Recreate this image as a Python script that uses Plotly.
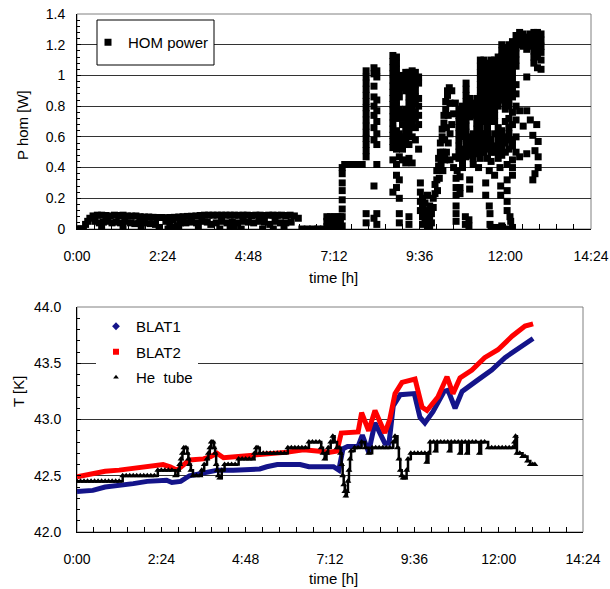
import plotly.graph_objects as go

# ---------------- data: HOM power (top panel), time in hours ----------------
# each entry: (time [h], [P values at that time])
hom_idle = [
    (0.0, [0.0]), (0.06, [0.0]), (0.12, [0.0]), (0.18, [0.0]),
    (0.24, [0.03]), (0.3, [0.05]), (0.36, [0.07]),
    (0.45, [0.085]), (0.5, [0.05]), (0.57, [0.09]), (0.62, [0.04]), (0.69, [0.09, 0.01]),
    (0.74, [0.045]), (0.81, [0.088]), (0.86, [0.05]), (0.93, [0.085]), (0.98, [0.04]),
    (1.05, [0.09]), (1.1, [0.045]), (1.17, [0.088]), (1.22, [0.04]), (1.29, [0.09, 0.01]),
    (1.34, [0.05]), (1.41, [0.085]), (1.5, [0.04]), (1.53, [0.084]), (1.62, [0.035]),
    (1.65, [0.085]), (1.74, [0.04]), (1.77, [0.08]), (1.8, [0.0]), (1.89, [0.078, 0.04]),
    (2.01, [0.078]), (2.05, [0.035]), (2.13, [0.076]), (2.2, [0.03]), (2.25, [0.075]),
    (2.3, [0.01]), (2.37, [0.075]), (2.49, [0.074, 0.05]), (2.55, [0.0]), (2.6, [0.03]),
    (2.61, [0.075]), (2.65, [0.0]), (2.7, [0.06]), (2.73, [0.076]), (2.75, [0.01]),
    (2.8, [0.02]), (2.85, [0.078, 0.0]), (2.9, [0.04]), (2.97, [0.08]), (3.05, [0.04]),
    (3.09, [0.082]), (3.2, [0.045]), (3.21, [0.083]), (3.33, [0.085]), (3.35, [0.04]),
    (3.4, [0.01]), (3.45, [0.088]), (3.5, [0.05]), (3.57, [0.09]), (3.65, [0.045]),
    (3.69, [0.09]), (3.75, [0.03]), (3.81, [0.09]), (3.9, [0.04]), (3.93, [0.09]),
    (4.0, [0.0]), (4.05, [0.09, 0.05]), (4.17, [0.09]), (4.2, [0.04]), (4.29, [0.09, 0.02]),
    (4.35, [0.045]), (4.41, [0.09, 0.01]), (4.5, [0.04]), (4.53, [0.089]), (4.6, [0.0]),
    (4.65, [0.09, 0.05]), (4.77, [0.09]), (4.8, [0.045]), (4.89, [0.088]), (4.95, [0.04]),
    (5.01, [0.09]), (5.1, [0.05]), (5.13, [0.09]), (5.2, [0.0]), (5.25, [0.088, 0.045]),
    (5.37, [0.09]), (5.4, [0.03]), (5.49, [0.09]), (5.5, [0.0]), (5.55, [0.05]),
    (5.61, [0.089]), (5.7, [0.04]), (5.73, [0.09]), (5.8, [0.01]), (5.85, [0.088, 0.04]),
    (5.97, [0.09]), (6.0, [0.045]), (6.09, [0.085]), (6.2, [0.07]),
    (6.3, [0.0]), (6.45, [0.0]), (6.6, [0.0]), (6.75, [0.0]), (6.9, [0.0]),
]

hom_rampup = [
    (7.0, [0.015, 0.05, 0.08]), (7.1, [0.015, 0.05, 0.08]), (7.2, [0.015, 0.05, 0.08]),
    (7.3, [0.015, 0.05, 0.08]), (7.38, [0.015, 0.05, 0.08]),
    (7.43, [0.02, 0.08, 0.13, 0.19, 0.25, 0.3, 0.36, 0.4]),
    (7.5, [0.42]), (7.57, [0.42]), (7.64, [0.42]), (7.71, [0.42]), (7.78, [0.42]),
    (7.85, [0.42]), (7.92, [0.42]), (7.99, [0.42]),
]

hom_burst1 = [
    (8.1, [1.03, 0.99, 0.95, 0.91, 0.87, 0.83, 0.79, 0.75, 0.71, 0.67, 0.63, 0.59, 0.55, 0.51, 0.47, 0.1, 0.04]),
    (8.32, [1.05, 1.01, 0.93, 0.86, 0.8, 0.74, 0.66, 0.58, 0.28, 0.07]),
    (8.4, [1.03, 0.99, 0.84, 0.77, 0.7, 0.62, 0.55, 0.42, 0.1, 0.03]),
    (8.85, [1.13, 1.09, 1.05, 1.01, 0.97, 0.93, 0.89, 0.85, 0.81, 0.77, 0.73, 0.69, 0.65, 0.61, 0.57, 0.53, 0.45, 0.24]),
    (8.95, [1.12, 1.08, 1.04, 1.0, 0.96, 0.92, 0.88, 0.84, 0.8, 0.76, 0.72, 0.64, 0.6, 0.56, 0.52, 0.42, 0.35, 0.27]),
    (9.03, [0.98, 0.94, 0.9, 0.86, 0.78, 0.74, 0.62, 0.58, 0.54, 0.47, 0.32, 0.2, 0.1, 0.04]),
    (9.12, [1.0, 0.96, 0.92, 0.76, 0.72, 0.68, 0.6, 0.56, 0.52, 0.45]),
    (9.21, [1.02, 0.98, 0.94, 0.9, 0.78, 0.74, 0.64, 0.6, 0.56, 0.43]),
    (9.3, [1.02, 0.98, 0.94, 0.9, 0.86, 0.82, 0.78, 0.7, 0.66, 0.62, 0.55, 0.46, 0.08, 0.03]),
    (9.39, [1.03, 0.99, 0.95, 0.91, 0.87, 0.83, 0.79, 0.75, 0.71, 0.67, 0.6, 0.43]),
    (9.48, [1.02, 0.98, 0.94, 0.9, 0.86, 0.82, 0.76, 0.72, 0.66, 0.58]),
    (9.57, [0.99, 0.95, 0.85, 0.8, 0.74, 0.68, 0.52]),
    (9.62, [0.3, 0.24, 0.18, 0.12]), (9.68, [0.2, 0.14, 0.08, 0.03]),
    (9.75, [0.17, 0.1, 0.04]), (9.82, [0.22, 0.12, 0.06, 0.01]), (9.88, [0.15, 0.08, 0.02]),
]

hom_burst2 = [
    (9.93, [0.04, 0.1]), (9.98, [0.14, 0.2]), (10.03, [0.23, 0.29]), (10.08, [0.32, 0.38]),
    (10.1, [0.25]), (10.13, [0.41, 0.46]), (10.15, [0.33]), (10.18, [0.5, 0.56]),
    (10.2, [0.42]), (10.23, [0.6, 0.65]), (10.25, [0.5, 0.38]), (10.28, [0.69, 0.74]),
    (10.3, [0.58, 0.47, 0.45]), (10.33, [0.78, 0.83]), (10.35, [0.66, 0.5]),
    (10.38, [0.87, 0.9]), (10.4, [0.74, 0.56]), (10.43, [0.92]), (10.45, [0.82, 0.62, 0.45]),
    (10.5, [0.9, 0.68]), (10.55, [0.75, 0.4]), (10.6, [0.82, 0.47]),
    (10.62, [0.33, 0.27, 0.22, 0.15, 0.1, 0.05]), (10.65, [0.38]),
    (10.7, [0.78, 0.74, 0.7, 0.66, 0.62, 0.58, 0.54, 0.5, 0.46]),
    (10.73, [0.34, 0.27, 0.23]),
    (10.8, [0.8, 0.76, 0.72, 0.68, 0.64, 0.6, 0.52, 0.48, 0.44, 0.4]),
    (10.88, [0.08, 0.03]),
    (10.9, [0.95, 0.91, 0.87, 0.83, 0.79, 0.75, 0.71, 0.67, 0.63, 0.59, 0.55, 0.51, 0.47]),
    (10.98, [0.06, 0.02]),
    (11.0, [0.85, 0.81, 0.77, 0.73, 0.6, 0.56, 0.52, 0.48, 0.32, 0.26]),
    (11.1, [0.82, 0.78, 0.74, 0.62, 0.58, 0.54, 0.5, 0.46, 0.42]),
    (11.2, [0.85, 0.81, 0.77, 0.73, 0.69, 0.65, 0.61, 0.57, 0.53, 0.49]),
    (11.25, [0.4]),
    (11.3, [1.1, 1.06, 1.02, 0.98, 0.94, 0.9, 0.86, 0.82, 0.78, 0.74, 0.7, 0.66, 0.62, 0.58, 0.54, 0.5, 0.46]),
    (11.4, [1.1, 1.06, 1.02, 0.98, 0.94, 0.9, 0.86, 0.82, 0.78, 0.74, 0.7, 0.62, 0.58, 0.54, 0.5]),
    (11.45, [0.3, 0.22]),
    (11.5, [1.08, 1.04, 1.0, 0.96, 0.92, 0.88, 0.84, 0.8, 0.76, 0.72, 0.68, 0.64, 0.6, 0.56, 0.52, 0.46]),
    (11.55, [0.38, 0.15]), (11.57, [0.1, 0.03]),
    (11.6, [1.1, 1.06, 1.02, 0.98, 0.94, 0.9, 0.86, 0.82, 0.78, 0.74, 0.7, 0.58, 0.54, 0.5, 0.44, 0.01]),
    (11.7, [1.1, 1.06, 1.02, 0.98, 0.94, 0.9, 0.86, 0.82, 0.78, 0.74, 0.7, 0.62, 0.54, 0.5, 0.35]),
    (11.75, [0.01]),
    (11.8, [1.12, 1.08, 1.04, 1.0, 0.96, 0.92, 0.88, 0.84, 0.8, 0.66, 0.62, 0.58, 0.54, 0.5, 0.46]),
    (11.85, [0.4]), (11.87, [0.28, 0.22]),
    (11.9, [1.2, 1.16, 1.12, 1.08, 1.04, 1.0, 0.96, 0.92, 0.88, 0.84, 0.64, 0.6, 0.56, 0.52, 0.48, 0.02]),
    (12.0, [1.18, 1.14, 1.1, 1.06, 1.02, 0.98, 0.94, 0.9, 0.86, 0.82, 0.78, 0.7, 0.6, 0.56, 0.5]),
    (12.05, [0.42, 0.32, 0.25, 0.18, 0.12, 0.0]),
    (12.1, [1.2, 1.16, 1.12, 1.08, 1.04, 1.0, 0.96, 0.92, 0.88, 0.84, 0.8, 0.72, 0.66, 0.62, 0.58, 0.52]),
    (12.13, [0.08]), (12.15, [0.05]),
    (12.2, [1.22, 1.18, 1.14, 1.1, 1.06, 1.02, 0.98, 0.94, 0.9, 0.86, 0.76, 0.68, 0.58, 0.54, 0.45, 0.4, 0.35, 0.01]),
    (12.3, [1.26, 1.22, 1.18, 1.14, 1.1, 1.06, 0.94, 0.88, 0.8, 0.71, 0.6, 0.5]),
    (12.4, [1.28, 1.24, 1.2, 0.77, 0.47]),
    (12.5, [1.27, 1.23, 1.19, 0.67]),
    (12.6, [1.25, 1.21, 1.17, 0.99, 0.77, 0.49]),
    (12.7, [1.27, 1.23, 1.19, 0.71]),
    (12.77, [0.61, 0.32]),
    (12.8, [1.28, 1.24, 1.2, 1.16, 1.12, 1.08]),
    (12.83, [0.51, 0.36]),
    (12.88, [0.68]),
    (12.9, [1.28, 1.24, 1.2, 1.16, 1.12, 1.05]),
    (12.92, [0.57, 0.47, 0.4]),
    (13.0, [1.27, 1.23, 1.19, 1.15, 1.1, 1.04]),
]

# ---------------- data: temperatures (bottom panel) ----------------
blat1_t = [0.0, 0.45, 0.8, 1.2, 1.6, 2.0, 2.3, 2.55, 2.7, 2.95, 3.2, 3.6, 4.0, 4.45, 4.8,
           5.2, 5.4, 5.7, 6.35, 6.6, 7.3, 7.45, 7.57, 7.7, 8.0, 8.12, 8.3, 8.48, 8.76,
           8.88, 9.0, 9.2, 9.6, 9.76, 9.9, 10.13, 10.45, 10.56, 10.76, 10.96, 11.4,
           11.8, 12.18, 12.55, 12.98]
blat1_T = [42.36, 42.37, 42.4, 42.41, 42.43, 42.45, 42.46, 42.46, 42.44, 42.45, 42.5,
           42.52, 42.55, 42.55, 42.55, 42.56, 42.58, 42.6, 42.6, 42.58, 42.58, 42.55,
           42.74, 42.76, 42.76, 42.86, 42.71, 42.97, 42.79, 42.79, 43.12, 43.22, 43.23,
           43.02, 42.97, 43.07, 43.25, 43.26, 43.1, 43.25, 43.35, 43.44, 43.55, 43.63,
           43.72]

blat2_t = [0.0, 0.4, 0.8, 1.2, 1.7, 2.1, 2.45, 2.65, 2.85, 3.2, 3.6, 3.8, 3.98, 4.17,
           4.6, 4.92, 5.5, 6.0, 6.45, 7.2, 7.4, 7.52, 8.0, 8.1, 8.3, 8.48, 8.76, 8.9,
           9.05, 9.25, 9.62, 9.82, 9.96, 10.27, 10.53, 10.7, 10.9, 11.24, 11.6, 11.98,
           12.38, 12.75, 12.98]
blat2_T = [42.49, 42.52, 42.54, 42.55, 42.57, 42.59, 42.6, 42.58, 42.55, 42.64, 42.65,
           42.67, 42.7, 42.66, 42.67, 42.68, 42.7, 42.71, 42.73, 42.71, 42.72, 42.88,
           42.89, 43.06, 42.9, 43.08, 42.88, 43.0, 43.23, 43.33, 43.36, 43.11, 43.08,
           43.2, 43.38, 43.23, 43.37, 43.44, 43.55, 43.62, 43.74, 43.83, 43.85]

he_points = [
    (0.0, 42.45), (0.1, 42.45), (0.2, 42.45), (0.3, 42.45), (0.4, 42.45), (0.5, 42.45),
    (0.6, 42.45), (0.7, 42.45), (0.8, 42.45), (0.9, 42.45), (1.0, 42.45), (1.1, 42.45),
    (1.2, 42.45), (1.3, 42.5), (1.4, 42.5), (1.5, 42.5), (1.6, 42.5), (1.7, 42.5),
    (1.8, 42.5), (1.9, 42.5), (2.0, 42.5), (2.1, 42.5), (2.2, 42.5), (2.3, 42.55),
    (2.4, 42.55), (2.5, 42.55), (2.6, 42.55), (2.7, 42.55), (2.8, 42.5), (2.88, 42.55),
    (2.92, 42.6), (2.96, 42.65), (3.0, 42.7), (3.04, 42.75), (3.1, 42.75), (3.14, 42.7),
    (3.17, 42.65), (3.2, 42.6), (3.24, 42.55), (3.3, 42.5), (3.4, 42.5), (3.5, 42.5),
    (3.55, 42.55), (3.62, 42.6), (3.7, 42.65), (3.74, 42.7), (3.78, 42.75), (3.82, 42.8),
    (3.87, 42.8), (3.9, 42.75), (3.93, 42.7), (3.96, 42.6), (3.99, 42.55), (4.02, 42.5),
    (4.06, 42.48), (4.12, 42.55), (4.2, 42.6), (4.3, 42.6), (4.4, 42.6), (4.5, 42.6),
    (4.6, 42.65), (4.7, 42.65), (4.8, 42.65), (4.9, 42.65), (5.0, 42.65), (5.05, 42.7),
    (5.1, 42.75), (5.15, 42.75), (5.2, 42.7), (5.3, 42.7), (5.4, 42.7), (5.5, 42.7),
    (5.6, 42.7), (5.7, 42.7), (5.8, 42.7), (5.9, 42.7), (6.0, 42.75), (6.1, 42.75),
    (6.2, 42.75), (6.3, 42.75), (6.4, 42.75), (6.5, 42.75), (6.6, 42.8), (6.7, 42.8),
    (6.8, 42.8), (6.9, 42.8), (6.95, 42.75), (7.0, 42.7), (7.05, 42.65), (7.1, 42.7),
    (7.15, 42.75), (7.22, 42.8), (7.28, 42.85), (7.33, 42.8), (7.4, 42.75), (7.46, 42.75),
    (7.5, 42.7), (7.53, 42.6), (7.56, 42.5), (7.59, 42.42), (7.62, 42.36), (7.65, 42.32),
    (7.68, 42.36), (7.71, 42.45), (7.74, 42.55), (7.77, 42.65), (7.8, 42.72), (7.9, 42.75),
    (8.0, 42.75), (8.1, 42.8), (8.2, 42.75), (8.3, 42.7), (8.4, 42.75), (8.5, 42.75),
    (8.6, 42.75), (8.7, 42.75), (8.8, 42.75), (8.9, 42.75), (9.0, 42.8), (9.05, 42.85),
    (9.12, 42.75), (9.16, 42.65), (9.2, 42.55), (9.24, 42.5), (9.28, 42.48), (9.33, 42.48),
    (9.38, 42.55), (9.42, 42.65), (9.5, 42.7), (9.6, 42.7), (9.7, 42.7), (9.8, 42.7),
    (9.9, 42.7), (9.95, 42.62), (10.0, 42.7), (10.05, 42.8), (10.15, 42.8), (10.2, 42.72),
    (10.25, 42.8), (10.35, 42.8), (10.45, 42.8), (10.55, 42.8), (10.6, 42.72), (10.65, 42.8),
    (10.75, 42.8), (10.85, 42.8), (10.9, 42.7), (10.95, 42.8), (11.05, 42.8), (11.1, 42.7),
    (11.15, 42.8), (11.25, 42.8), (11.35, 42.8), (11.45, 42.7), (11.5, 42.8), (11.6, 42.8),
    (11.7, 42.75), (11.8, 42.75), (11.9, 42.75), (12.0, 42.75), (12.1, 42.75), (12.2, 42.75),
    (12.3, 42.75), (12.4, 42.75), (12.45, 42.8), (12.48, 42.85), (12.52, 42.7), (12.6, 42.7),
    (12.68, 42.67), (12.75, 42.67), (12.82, 42.63), (12.9, 42.6), (12.97, 42.6), (13.03, 42.6),
]

time_tickvals = [0, 2.4, 4.8, 7.2, 9.6, 12.0, 14.4]
time_ticktext = ["0:00", "2:24", "4:48", "7:12", "9:36", "12:00", "14:24"]
p_tickvals = [0, 0.2, 0.4, 0.6, 0.8, 1.0, 1.2, 1.4]
p_ticktext = ["0", "0.2", "0.4", "0.6", "0.8", "1", "1.2", "1.4"]

# ---------------- build ----------------
def flatten(cols):
    xs, ys = [], []
    for t, vals in cols:
        for v in vals:
            xs.append(t)
            ys.append(v)
    return xs, ys

hx, hy = [], []
for region in (hom_idle, hom_rampup, hom_burst1, hom_burst2):
    a, b = flatten(region)
    hx += a
    hy += b

he_t = [p[0] for p in he_points]
he_T = [p[1] for p in he_points]

W, H = 610, 589
FONT = "Arial, Liberation Sans, sans-serif"
BLUE = "#14148a"
RED = "#ff0000"

fig = go.Figure()
fig.add_trace(go.Scatter(x=hx, y=hy, mode="markers", name="HOM power",
                         marker=dict(symbol="square", size=7, color="black"),
                         xaxis="x", yaxis="y", legend="legend"))

fig.add_trace(go.Scatter(x=blat1_t, y=blat1_T, mode="lines", line=dict(color=BLUE, width=5),
                         xaxis="x2", yaxis="y2", showlegend=False))
fig.add_trace(go.Scatter(x=blat2_t, y=blat2_T, mode="lines", line=dict(color=RED, width=5),
                         xaxis="x2", yaxis="y2", showlegend=False))
fig.add_trace(go.Scatter(x=he_t, y=he_T, mode="lines+markers",
                         line=dict(color="black", width=2.5, shape="hv"),
                         marker=dict(symbol="triangle-up", size=6, color="black"),
                         xaxis="x2", yaxis="y2", showlegend=False))
# legend entries
fig.add_trace(go.Scatter(x=[None], y=[None], mode="markers", name="BLAT1",
                         marker=dict(symbol="diamond", size=6, color=BLUE),
                         xaxis="x2", yaxis="y2", legend="legend2", legendgroup="a"))
fig.add_trace(go.Scatter(x=[None], y=[None], mode="markers", name="BLAT2",
                         marker=dict(symbol="square", size=6, color=RED),
                         xaxis="x2", yaxis="y2", legend="legend2", legendgroup="b"))
fig.add_trace(go.Scatter(x=[None], y=[None], mode="markers", name="He  tube",
                         marker=dict(symbol="triangle-up", size=5, color="black"),
                         xaxis="x2", yaxis="y2", legend="legend2", legendgroup="c"))

tickfont = dict(family=FONT, size=14, color="black")
xcommon = dict(range=[0, 14.4], tickmode="array", tickvals=time_tickvals, ticktext=time_ticktext,
               ticks="inside", ticklen=5, tickcolor="black", showgrid=False, zeroline=False,
               showline=True, linecolor="black", linewidth=1, tickfont=tickfont,
               ticklabelstandoff=14, automargin=False,
               minor=dict(ticks="inside", ticklen=5, tickcolor="black", dtick=0.48, tick0=0, showgrid=False))

def title_ann(text, x, y, angle=0):
    return dict(text=text, x=x / W, y=1 - y / H, xref="paper", yref="paper",
                xanchor="center", yanchor="middle", textangle=angle, showarrow=False,
                font=dict(family=FONT, size=15, color="black"))

fig.update_layout(
    width=W, height=H, margin=dict(l=0, r=0, t=0, b=0),
    paper_bgcolor="white", plot_bgcolor="white",
    font=dict(family=FONT, size=14, color="black"),
    xaxis=dict(domain=[77 / W, 591 / W], anchor="y", **xcommon),
    yaxis=dict(domain=[1 - 229 / H, 1 - 14 / H], anchor="x", range=[0, 1.4],
               tickmode="array", tickvals=p_tickvals, ticktext=p_ticktext,
               ticks="inside", ticklen=4, tickcolor="black",
               showgrid=True, gridcolor="#333333", gridwidth=1, zeroline=False,
               showline=True, linecolor="black", tickfont=tickfont, ticklabelstandoff=8,
               automargin=False,
               minor=dict(ticks="inside", ticklen=3, tickcolor="black", dtick=0.04, tick0=0, showgrid=False)),
    xaxis2=dict(domain=[77 / W, 583 / W], anchor="y2", **xcommon),
    yaxis2=dict(domain=[1 - 532 / H, 1 - 307 / H], anchor="x2", range=[42.0, 44.0],
                tickmode="linear", tick0=42.0, dtick=0.5, tickformat=".1f",
                ticks="inside", ticklen=4, tickcolor="black",
                showgrid=True, gridcolor="#333333", gridwidth=1, zeroline=False,
                showline=True, linecolor="black", tickfont=tickfont, ticklabelstandoff=12,
                automargin=False,
                minor=dict(ticks="inside", ticklen=3, tickcolor="black", dtick=0.1, tick0=42.0, showgrid=False)),
    legend=dict(x=88 / W, y=1 - 26 / H, xanchor="left", yanchor="top",
                bgcolor="rgba(0,0,0,0)", borderwidth=0,
                font=dict(family=FONT, size=15, color="black")),
    legend2=dict(x=96 / W, y=1 - 310 / H, xanchor="left", yanchor="top",
                 bgcolor="white", borderwidth=0, tracegroupgap=3, traceorder="grouped",
                 font=dict(family=FONT, size=15, color="black")),
    showlegend=True,
    shapes=[
        dict(type="rect", xref="x domain", yref="y domain", x0=0, x1=1, y0=0, y1=1,
             line=dict(color="#808080", width=1), layer="below"),
        dict(type="rect", xref="x2 domain", yref="y2 domain", x0=0, x1=1, y0=0, y1=1,
             line=dict(color="#808080", width=1), layer="below"),
        dict(type="rect", xref="paper", yref="paper", x0=97 / W, x1=214 / W,
             y0=1 - 65 / H, y1=1 - 20 / H, fillcolor="white",
             line=dict(color="black", width=1), layer="above"),
    ],
    annotations=[
        title_ann("P hom [W]", 22, 125, -90),
        title_ann("time [h]", 333, 277),
        title_ann("T [K]", 18, 392, -90),
        title_ann("time [h]", 333, 578),
    ],
)

fig.write_html("out.html", config={"displayModeBar": False},
               post_script="document.body.style.margin='0';document.body.style.overflow='hidden';")
